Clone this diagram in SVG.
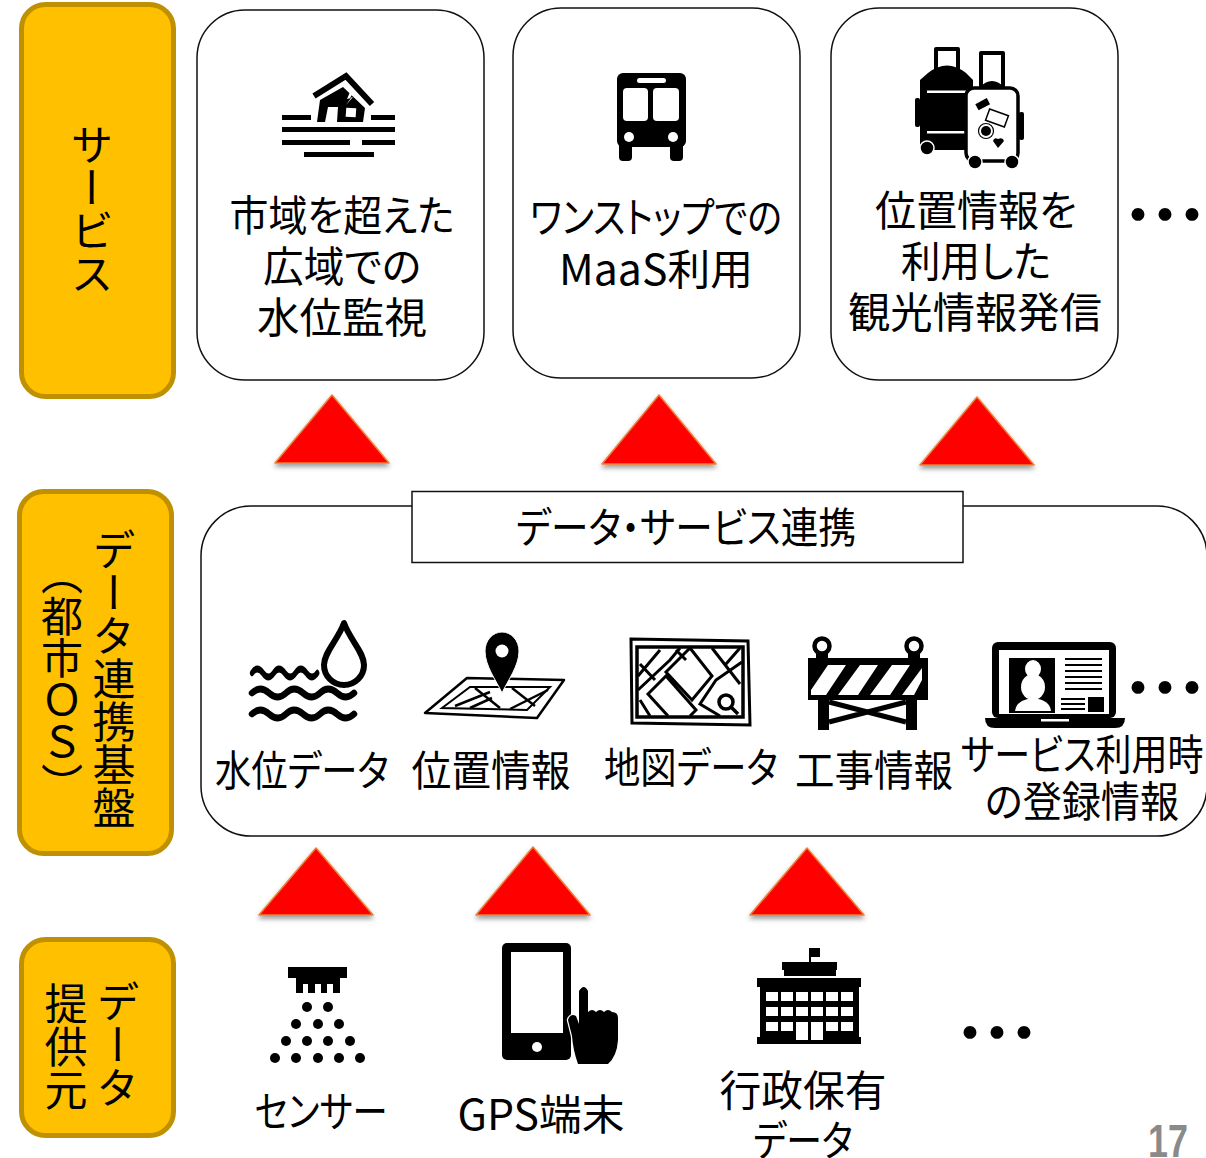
<svg xmlns="http://www.w3.org/2000/svg" width="1206" height="1158" viewBox="0 0 1206 1158">
<style>
text{font-family:"Noto Sans CJK JP","Liberation Sans",sans-serif;font-size:42px;fill:#000;text-anchor:middle;font-feature-settings:"palt"}
.v{writing-mode:vertical-rl;text-anchor:start;font-size:43px;font-feature-settings:normal}
.cat{fill:#FFC000;stroke:#BF9000;stroke-width:5}
.box{fill:#fff;stroke:#111;stroke-width:1.5}
.tri{fill:#FF0000;stroke:#ED7D31;stroke-width:1.5;stroke-linejoin:round;filter:url(#sh)}
.dots{font-size:50px;letter-spacing:-23px;font-weight:700;font-feature-settings:normal}
.w{fill:#fff}
.k{fill:#000}
.l{fill:none;stroke:#000}
</style>
<defs>
<filter id="sh" x="-20%" y="-20%" width="140%" height="150%"><feDropShadow dx="0" dy="3" stdDeviation="2.5" flood-color="#000" flood-opacity="0.4"/></filter>
<path id="wave" d="M0 0q8 -8 17 0t17 0t17 0t17 0t17 0t17 0" class="l" stroke-width="6.500" stroke-linecap="round"/>
<circle id="d" r="5" class="k"/>
</defs>
<rect width="1206" height="1158" fill="#fff"/>

<g id="connectors">
<polygon class="tri" points="332,395 275,463 389,463"/>
<polygon class="tri" points="659,395 602,464 716,464"/>
<polygon class="tri" points="977,397 920,465 1034,465"/>
<polygon class="tri" points="316,848 259,915 373,915"/>
<polygon class="tri" points="533,847 476,915 590,915"/>
<polygon class="tri" points="807,848 750,915 864,915"/>
</g>

<g id="cat-service">
<rect class="cat" x="21.500" y="4.500" width="152" height="392" rx="24"/>
<text class="v" x="92" y="123">サービス</text>
</g>
<g id="cat-platform">
<rect class="cat" x="19.500" y="491.500" width="152" height="362" rx="24"/>
<text class="v" x="114" y="528">データ連携基盤</text>
<text class="v" x="62" y="553" style="font-size:42px">（都市ＯＳ）</text>
</g>
<g id="cat-provider">
<rect class="cat" x="21.500" y="939.500" width="152" height="196" rx="24"/>
<text class="v" x="118" y="980">データ</text>
<text class="v" x="66" y="982">提供元</text>
</g>

<g id="svc-water">
<rect class="box" x="197" y="10" width="287" height="370" rx="48"/>
<g class="k">
<rect x="282" y="115" width="29" height="5"/><rect x="371" y="115" width="24" height="5"/>
<rect x="282" y="127" width="113" height="5"/>
<rect x="282" y="140" width="68" height="5"/><rect x="362" y="140" width="33" height="5"/>
<rect x="304" y="152" width="70" height="5"/>
<path d="M314 96L346 76L372 104" class="l" stroke-width="6"/>
<path d="M320 100L343 87L365 108L363 122H337L338 107H328L325 122H317Z"/>
<rect class="w" x="346" y="108" width="10" height="9" transform="rotate(4 351 112)"/>
<path class="w" d="M350 92L347 99L351 98L346 105L353 97L350 98L353 93Z"/>
</g>
<text x="342" y="231" textLength="225" lengthAdjust="spacingAndGlyphs">市域を超えた</text>
<text x="342" y="282" textLength="158" lengthAdjust="spacingAndGlyphs">広域での</text>
<text x="342" y="333" textLength="170" lengthAdjust="spacingAndGlyphs">水位監視</text>
</g>

<g id="svc-maas">
<rect class="box" x="513" y="8" width="287" height="370" rx="48"/>
<rect class="k" x="617" y="73" width="69" height="74" rx="6"/>
<rect class="k" x="619" y="140" width="13" height="21" rx="4"/><rect class="k" x="670" y="140" width="13" height="21" rx="4"/>
<rect class="w" x="623" y="88" width="25" height="33" rx="4"/><rect class="w" x="653" y="88" width="26" height="33" rx="4"/>
<rect class="w" x="637" y="78" width="29" height="5" rx="2.500"/>
<circle class="w" cx="629" cy="137" r="5"/><circle class="w" cx="673" cy="137" r="5"/>
<text x="656" y="233" textLength="252" lengthAdjust="spacingAndGlyphs">ワンストップでの</text>
<text x="656" y="285" textLength="194" lengthAdjust="spacingAndGlyphs">MaaS利用</text>
</g>

<g id="svc-tourism">
<rect class="box" x="831" y="8" width="287" height="372" rx="48"/>
<path d="M936 72V49H958V72M981 88V53H1003V88" class="l" stroke-width="4" stroke-linejoin="round"/>
<path class="k" d="M928 73Q947 58 966 73L973 80V150H920V80Z"/>
<rect class="k" x="915" y="98" width="5" height="29" rx="2"/>
<rect class="w" x="927" y="90.500" width="45" height="2.500"/><rect class="w" x="927" y="131" width="40" height="2.500"/>
<circle class="k" cx="927" cy="148" r="7" stroke="#fff" stroke-width="1.500"/>
<rect x="966" y="88" width="52" height="73" rx="8" fill="#fff" stroke="#000" stroke-width="3.500"/>
<path class="k" d="M979 88Q992 74 1005 88Z"/>
<rect class="k" x="1019" y="112" width="5" height="28" rx="2"/>
<rect class="k" x="976" y="101" width="13" height="7" transform="rotate(-28 982 104)"/>
<rect x="987" y="112" width="20" height="12" fill="#fff" stroke="#000" stroke-width="1.500" transform="rotate(20 997 118)"/>
<circle class="k" cx="986" cy="131" r="5"/><circle class="l" cx="986" cy="131" r="7.500" stroke-width="1.200"/>
<path class="k" d="M998 148L993 141Q994 137 998 139Q1003 137 1004 141Z"/>
<circle class="k" cx="975" cy="162" r="7" stroke="#fff" stroke-width="1.500"/><circle class="k" cx="1012" cy="162" r="7" stroke="#fff" stroke-width="1.500"/>
<text x="976" y="226" textLength="202" lengthAdjust="spacingAndGlyphs">位置情報を</text>
<text x="976" y="277" textLength="150" lengthAdjust="spacingAndGlyphs">利用した</text>
<text x="975" y="328" textLength="254" lengthAdjust="spacingAndGlyphs">観光情報発信</text>
</g>

<g id="platform">
<rect class="box" x="201" y="506" width="1006" height="330" rx="50"/>
<rect class="box" x="412" y="491.500" width="551" height="71"/>
<text x="686" y="543" textLength="340" lengthAdjust="spacingAndGlyphs">データ・サービス連携</text>
</g>

<g id="data-water">
<path d="M344 623C338 640 324 652 324 665A20 20 0 0 0 364 665C364 652 350 640 344 623Z" class="l" stroke-width="6" stroke-linejoin="round"/>
<use href="#wave" transform="translate(252 673) scale(.64 1)"/>
<use href="#wave" x="252" y="693"/>
<use href="#wave" x="252" y="714"/>
<text x="302" y="786" textLength="174" lengthAdjust="spacingAndGlyphs">水位データ</text>
</g>
<g id="data-location">
<path d="M467 678L564 680L537 718L425 713Z" class="l" stroke-width="2.500" stroke-linejoin="round"/>
<path d="M470 687L550 687L527 710L442 708Z" class="l" stroke-width="2"/>
<path d="M475 688L500 708M512 688L535 706M455 706L490 692M510 709L548 690M470 708L492 698" class="l" stroke-width="2.500"/>
<path class="k" d="M502 693C496 680 485 666 485 651A17 19 0 0 1 519 651C519 666 508 680 502 693Z" stroke="#fff" stroke-width="1"/>
<circle class="w" cx="502" cy="651" r="6.500"/>
<text x="491" y="786" textLength="159" lengthAdjust="spacingAndGlyphs">位置情報</text>
</g>
<g id="data-map">
<path d="M631 639L748 641L750 725L632 723Z" class="l" stroke-width="3"/>
<rect x="637" y="647" width="106" height="70" class="l" stroke-width="3.500"/>
<g class="l" stroke-width="3">
<path d="M638 690L670 660L680 648M650 716L640 700M638 676L660 650M690 648L712 676L692 700L666 672L690 648M668 716L648 694L666 676L696 710L690 716"/>
<path d="M712 648L740 684M742 662L716 680L700 704L720 716M740 648L726 664M640 664L655 680M676 650L686 660"/>
</g>
<circle cx="726" cy="702" r="7" fill="#fff" stroke="#000" stroke-width="3.500"/><path d="M731 707L738 714" class="l" stroke-width="3.500"/>
<text x="691" y="783" textLength="174" lengthAdjust="spacingAndGlyphs">地図データ</text>
</g>
<g id="data-construction">
<circle class="l" cx="822" cy="646" r="7.500" stroke-width="4.500"/><circle class="l" cx="914" cy="646" r="7.500" stroke-width="4.500"/>
<rect class="k" x="816" y="653" width="12" height="6"/><rect class="k" x="908" y="653" width="12" height="6"/>
<rect class="k" x="808" y="658" width="120" height="42"/>
<path class="w" d="M828 665H846L826 695H811V690ZM860 665H878L858 695H838ZM892 665H910L890 695H870Z"/>
<path class="w" d="M922 668V680L914 695H902Z"/>
<rect class="k" x="818" y="700" width="11" height="30"/><rect class="k" x="906" y="700" width="11" height="30"/>
<path d="M829 702L906 722M906 702L829 722" class="l" stroke-width="5"/>
<text x="874" y="786" textLength="158" lengthAdjust="spacingAndGlyphs">工事情報</text>
</g>
<g id="data-registration">
<rect class="k" x="992" y="642" width="124" height="76" rx="6"/>
<rect class="w" x="999" y="650" width="110" height="64"/>
<rect class="k" x="1009" y="658" width="46" height="55"/>
<g class="w"><ellipse cx="1033" cy="669" rx="8" ry="9"/><ellipse cx="1033" cy="687" rx="12" ry="13"/><path d="M1015 711Q1016 700 1033 698Q1050 700 1051 711Z"/></g>
<g class="k"><rect x="1065" y="658" width="37" height="2"/><rect x="1065" y="664" width="37" height="2"/><rect x="1065" y="670" width="37" height="2"/><rect x="1065" y="676" width="37" height="2"/><rect x="1065" y="682" width="37" height="2"/><rect x="1065" y="688" width="37" height="2"/><rect x="1061" y="698" width="24" height="2"/><rect x="1061" y="703" width="24" height="2"/><rect x="1061" y="708" width="24" height="2"/><rect x="1088" y="697" width="16" height="15"/></g>
<path class="k" d="M985 718H1125Q1125 728 1115 728H995Q985 728 985 718Z"/>
<rect class="w" x="1041" y="719" width="28" height="2.500"/>
<text x="1082" y="770" textLength="243" lengthAdjust="spacingAndGlyphs">サービス利用時</text>
<text x="1082" y="817" textLength="194" lengthAdjust="spacingAndGlyphs">の登録情報</text>
</g>

<g id="src-sensor">
<path class="k" d="M288 967H347V978H340V993H333V984H327V993H321V984H315V993H308V984H303V993H296V978H288Z"/>
<use href="#d" x="307" y="1007"/><use href="#d" x="328" y="1007"/>
<use href="#d" x="296" y="1024"/><use href="#d" x="318" y="1024"/><use href="#d" x="339" y="1024"/>
<use href="#d" x="286" y="1041"/><use href="#d" x="307" y="1041"/><use href="#d" x="328" y="1041"/><use href="#d" x="350" y="1041"/>
<use href="#d" x="275" y="1058"/><use href="#d" x="296" y="1058"/><use href="#d" x="318" y="1058"/><use href="#d" x="339" y="1058"/><use href="#d" x="360" y="1058"/>
<text x="321" y="1127" textLength="133" lengthAdjust="spacingAndGlyphs">センサー</text>
</g>
<g id="src-gps">
<rect class="k" x="502" y="943" width="69" height="117" rx="5"/>
<rect class="w" x="511" y="952" width="52" height="81"/>
<circle class="w" cx="537" cy="1047" r="5"/>
<path class="k" d="M579 991Q584 983 588 991V1012Q592 1008 596 1012Q600 1008 604 1012Q608 1008 612 1012Q618 1012 618 1018V1040Q617 1056 608 1064H578Q573 1050 572 1036L568 1020Q570 1013 576 1016L579 1024Z" stroke="#fff" stroke-width="2.500" paint-order="stroke"/>
<text x="541" y="1130" textLength="167" lengthAdjust="spacingAndGlyphs">GPS端末</text>
</g>
<g id="src-gov">
<g class="k">
<rect x="809" y="948" width="2" height="15"/><rect x="809" y="948" width="11" height="9"/>
<rect x="782" y="962" width="55" height="8"/><rect x="784" y="970" width="52" height="6"/>
<rect x="757" y="978" width="104" height="9"/><rect x="760" y="987" width="99" height="50"/><rect x="757" y="1037" width="104" height="7"/>
</g>
<g class="w">
<rect x="766" y="992" width="12" height="9"/><rect x="781" y="992" width="12" height="9"/><rect x="796" y="992" width="12" height="9"/><rect x="811" y="992" width="12" height="9"/><rect x="826" y="992" width="12" height="9"/><rect x="841" y="992" width="12" height="9"/>
<rect x="766" y="1007" width="12" height="9"/><rect x="781" y="1007" width="12" height="9"/><rect x="796" y="1007" width="12" height="9"/><rect x="811" y="1007" width="12" height="9"/><rect x="826" y="1007" width="12" height="9"/><rect x="841" y="1007" width="12" height="9"/>
<rect x="766" y="1022" width="12" height="9"/><rect x="781" y="1022" width="12" height="9"/><rect x="826" y="1022" width="12" height="9"/><rect x="841" y="1022" width="12" height="9"/>
<rect x="796" y="1022" width="12" height="18"/><rect x="811" y="1022" width="12" height="18"/>
</g>
<text x="803" y="1106" textLength="167" lengthAdjust="spacingAndGlyphs">行政保有</text>
<text x="803" y="1156" textLength="100" lengthAdjust="spacingAndGlyphs">データ</text>
</g>

<text class="dots" x="1153.500" y="233">・・・</text>
<text class="dots" x="1153.500" y="706">・・・</text>
<text class="dots" x="985.500" y="1051">・・・</text>
<text x="1168" y="1157" textLength="40" lengthAdjust="spacingAndGlyphs" style="font-family:'Liberation Sans Narrow','Liberation Sans',sans-serif;font-size:47px;font-weight:700;fill:#8a8a8a">17</text>
</svg>
